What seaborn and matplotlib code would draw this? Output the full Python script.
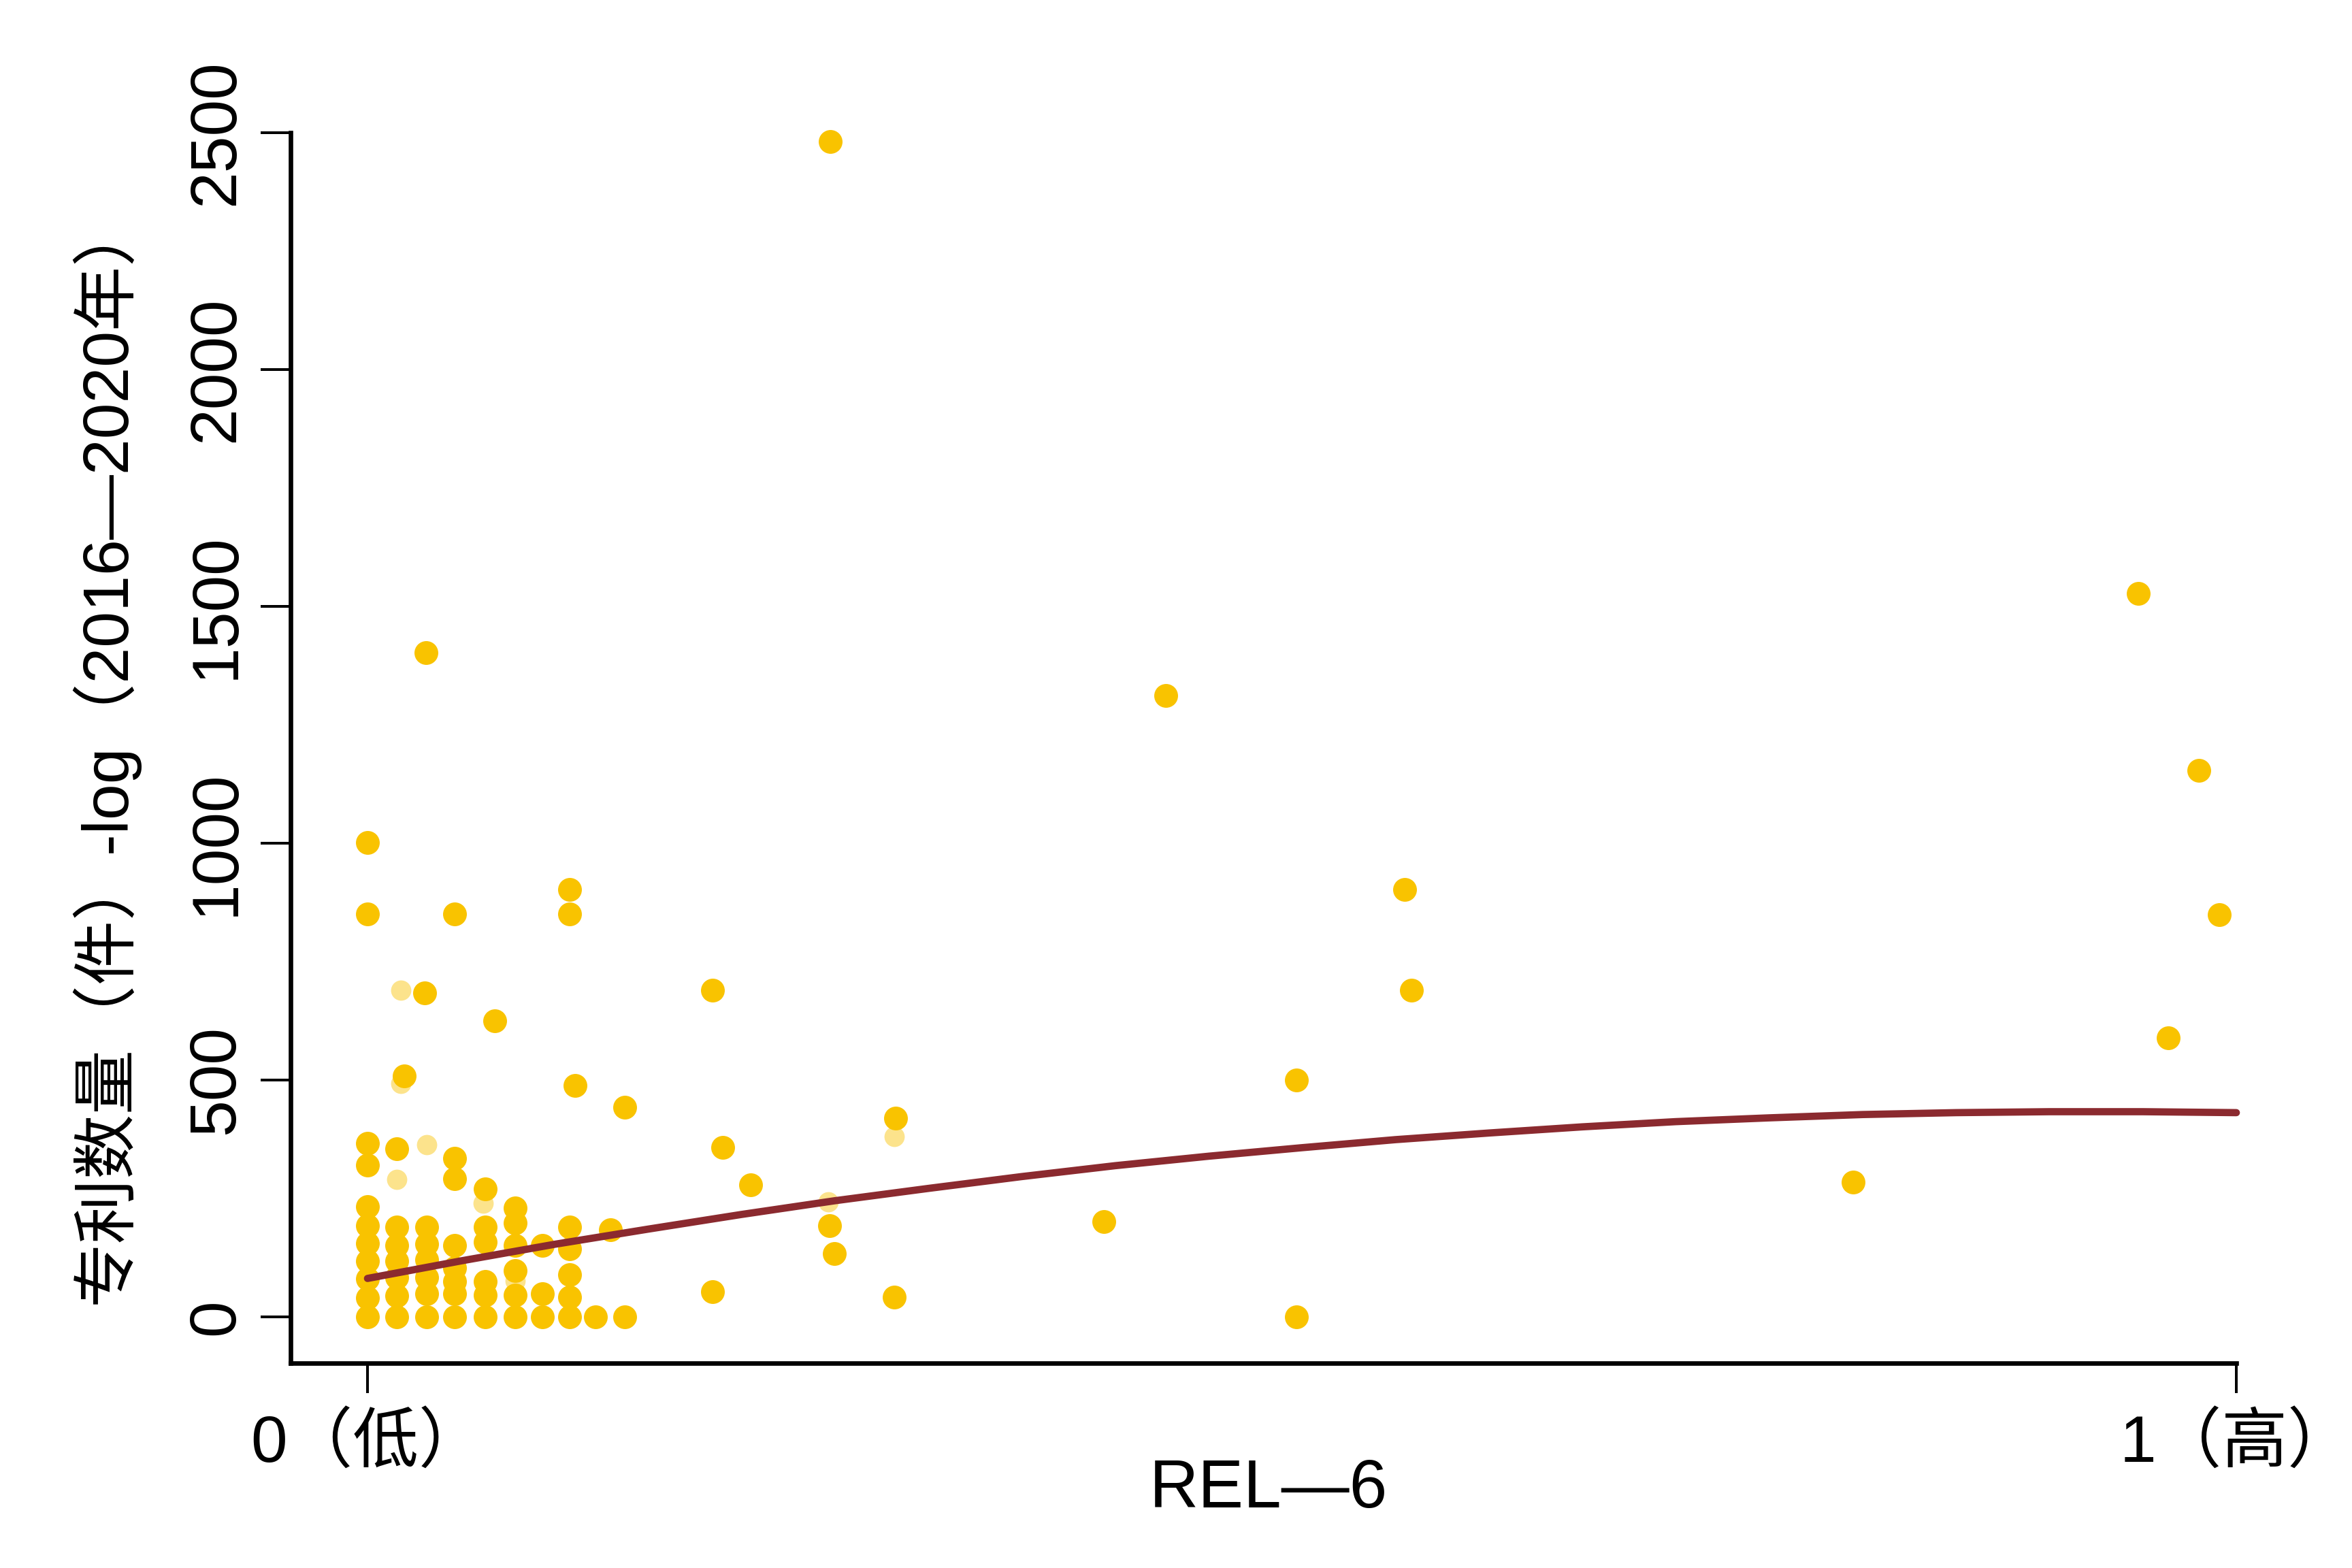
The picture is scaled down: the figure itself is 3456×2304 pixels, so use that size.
import matplotlib
matplotlib.use("Agg")
import matplotlib.pyplot as plt
import seaborn as sns

# REL-6 score (x) vs patent count 2016-2020 (y)
rel6 = [
    # x = 0 column
    0, 0, 0, 0, 0, 0, 0, 0, 0, 0, 0,
    # dense columns near zero
    0.0157, 0.0157, 0.0157, 0.0157, 0.0157, 0.0157, 0.0157, 0.0195,
    0.0317, 0.0317, 0.0317, 0.0317, 0.0317, 0.0317, 0.0306, 0.0313,
    0.0466, 0.0466, 0.0466, 0.0466, 0.0466, 0.0466, 0.0466, 0.0466,
    0.063, 0.063, 0.063, 0.063, 0.063, 0.063, 0.068,
    0.079, 0.079, 0.079, 0.079, 0.079, 0.079,
    0.0936, 0.0936, 0.0936,
    0.108, 0.108, 0.108, 0.108, 0.108, 0.108, 0.108, 0.111,
    0.122, 0.1377, 0.1377, 0.130,
    # the rest
    0.1846, 0.1846, 0.190, 0.205, 0.2476, 0.2474, 0.2498, 0.2826, 0.2817,
    0.394, 0.427, 0.497, 0.497, 0.555, 0.5586, 0.795,
    0.9476, 0.9636, 0.980, 0.991,
]
patents = [
    0, 40, 80, 118, 155, 193, 232, 320, 366, 851, 1001,
    0, 45, 83, 118, 151, 190, 355, 508,
    0, 48, 83, 120, 154, 190, 684, 1402,
    0, 48, 75, 103, 151, 292, 335, 851,
    0, 46, 75, 158, 190, 270, 625,
    0, 46, 98, 151, 198, 230,
    0, 48, 151,
    0, 41, 89, 144, 190, 851, 902, 488,
    0, 0, 443, 184,
    690, 53, 357, 278, 2481, 192, 134, 419, 42,
    201, 1311, 500, 0, 902, 690, 285,
    1527, 589, 1154, 849,
]

# pale (washed out) dots in the original
rel6_faint = [0.0157, 0.018, 0.018, 0.0317, 0.062, 0.079, 0.2464, 0.282]
patents_faint = [290, 690, 492, 364, 240, 76, 242, 381]

# fitted curve, read at steps of 0.05
fit_x = [0.0, 0.05, 0.1, 0.15, 0.2, 0.25, 0.3, 0.35, 0.4, 0.45, 0.5,
         0.55, 0.6, 0.65, 0.7, 0.75, 0.8, 0.85, 0.9, 0.95, 1.0]
fit_y = [81, 118, 153, 185, 216, 245, 271, 296, 319, 339, 357,
         374, 388, 401, 412, 420, 427, 431, 433, 433, 431]

y_ticks = [0, 500, 1000, 1500, 2000, 2500]
x_ticks = [0, 1]
x_tick_labels = ['0（低）', '1（高）']
x_label = 'REL—6'
y_label = '专利数量（件）-log（2016—2020年）'

gold = '#F9C300'
dark_red = '#8B2A2F'

sns.set_theme(style='ticks')
plt.rcParams['font.family'] = ['Liberation Sans', 'Noto Sans CJK SC', 'DejaVu Sans']

fig = plt.figure(figsize=(14.4, 9.6), dpi=240)
ax = fig.add_axes([0.1236, 0.1306, 0.859, 0.809])

sns.scatterplot(x=rel6, y=patents, color=gold, s=110, linewidth=0, ax=ax, zorder=2)
sns.scatterplot(x=rel6_faint, y=patents_faint, color=gold, alpha=0.45, s=80,
                linewidth=0, ax=ax, zorder=2)
sns.lineplot(x=fit_x, y=fit_y, color=dark_red, linewidth=3.2, ax=ax, zorder=3)

ax.set_xlim(-0.0411, 1.04)
ax.set_ylim(-98, 2580)
sns.despine(ax=ax)
ax.spines['left'].set_bounds(-98, 2500)
ax.spines['bottom'].set_bounds(-0.0411, 1.0)
for side in ['left', 'bottom']:
    ax.spines[side].set_linewidth(2.0)
    ax.spines[side].set_color('black')

ax.set_yticks(y_ticks)
ax.set_xticks(x_ticks)
ax.set_xticklabels(x_tick_labels)
ax.tick_params(axis='both', length=13.2, width=1.2, color='black',
               labelsize=29, labelcolor='black', direction='out')
ax.tick_params(axis='y', labelrotation=90, pad=6)
ax.tick_params(axis='x', pad=9)
plt.setp(ax.get_yticklabels(), va='center')

ax.set_xlabel(x_label, fontsize=30, color='black')
ax.xaxis.set_label_coords(0.484, -0.0746)
ax.set_ylabel(y_label, fontsize=28.5, color='black')
ax.yaxis.set_label_coords(-0.0754, 0.483)

fig.savefig('out.png', dpi=240)
